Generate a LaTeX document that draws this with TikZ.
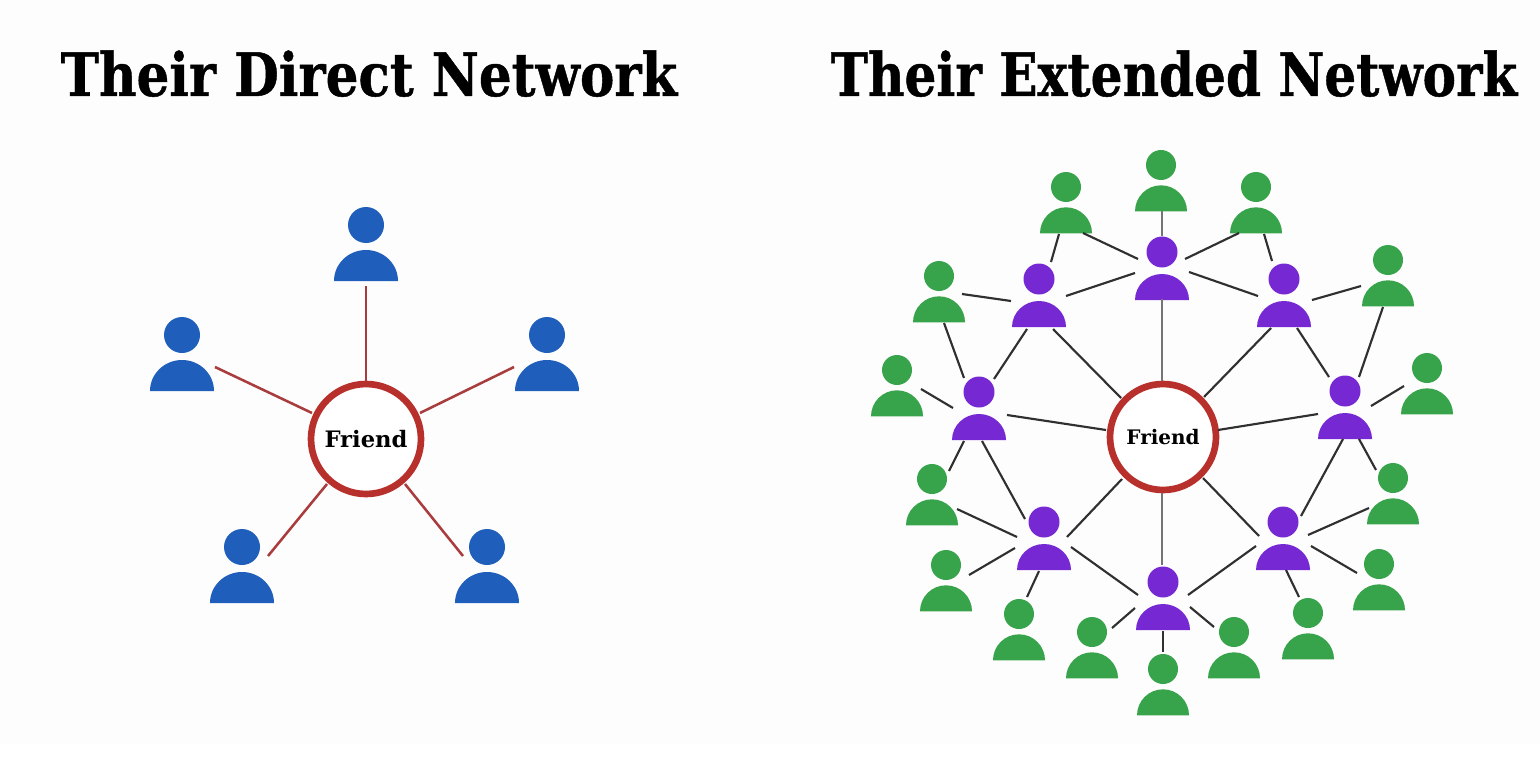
\documentclass[tikz,border=0pt]{standalone}
\usepackage{fontspec}
\setmainfont{DejaVu Serif}
\newfontfamily\titlefont[FakeBold=0.8]{DejaVu Serif Bold}
\usetikzlibrary{calc}
\definecolor{bgc}{HTML}{FDFDFD}
\definecolor{bluep}{HTML}{1F5FBB}
\definecolor{purplep}{HTML}{7629D3}
\definecolor{greenp}{HTML}{37A34A}
\definecolor{ringc}{HTML}{B8302C}
\definecolor{redl}{HTML}{A93C3C}
\definecolor{linkc}{HTML}{303030}
\definecolor{greyl}{HTML}{757575}
\tikzset{
  head/.style={circle,draw=none,inner sep=0pt,minimum size=#1},
  ring/.style={circle,draw=ringc,line width=5pt,fill=white,inner sep=0pt,minimum size=#1},
  redlink/.style={draw=redl,line width=1.9pt},
  netlink/.style={draw=linkc,line width=1.6pt},
  greylink/.style={draw=greyl,line width=2.2pt},
  titletext/.style={font=\titlefont,anchor=base,inner sep=0pt},
}
% \person{name}{colour}{x}{y}{head radius}{base offset}{half width}{body height}
\newcommand{\person}[8]{%
  \node[head={#5*1.5pt},fill=#2] (#1) at (#3,#4) {};
  \fill[#2] (#3-#7,#4+#6) arc[start angle=180,end angle=0,x radius=#7*0.75pt,y radius=#8*0.75pt] -- cycle;
}
\newcommand{\bluep}[3]{\person{#1}{bluep}{#2}{#3}{18}{56}{32}{31}}
\newcommand{\purp}[3]{\person{#1}{purplep}{#2}{#3}{15.5}{48}{27}{26}}
\newcommand{\grn}[3]{\person{#1}{greenp}{#2}{#3}{15}{46.3}{26}{26}}
% \lnk[style]{a}{b}{ax}{ay}{bx}{by}: connector between people a and b
\newcommand{\lnk}[7][netlink]{%
  \coordinate (#2-#3-a) at (#4,#5);
  \coordinate (#2-#3-b) at (#6,#7);
  \draw[#1] (#2-#3-a) -- (#2-#3-b);
}
\begin{document}
\begin{tikzpicture}[x=0.75pt,y=-0.75pt]
\useasboundingbox (0,0) rectangle (1540,756);
\fill[white] (0,0) rectangle (1540,756);
\fill[bgc] (0,0) rectangle (1540,744);

\node[titletext] (t1) at (369,96) {\scalebox{0.86}[1]{\fontsize{45}{45}\selectfont Their Direct Network}};
\node[titletext] (t2) at (1174,96) {\scalebox{0.836}[1]{\fontsize{45}{45}\selectfont Their Extended Network}};

% direct network
\node[ring={110*0.75pt}] (f1) at (366,439) {\fontsize{17}{17}\selectfont\bfseries Friend};
\bluep{b1}{366}{225}
\bluep{b2}{182}{335}
\bluep{b3}{547}{335}
\bluep{b4}{242}{547}
\bluep{b5}{487}{547}
\lnk[redlink]{b1}{f1}{366}{286}{366}{381}
\lnk[redlink]{b2}{f1}{215}{367}{312}{413}
\lnk[redlink]{b3}{f1}{514}{367}{420}{413}
\lnk[redlink]{b4}{f1}{268}{556}{327}{484}
\lnk[redlink]{b5}{f1}{463}{556}{405}{484}

% extended network
\node[ring={106*0.75pt}] (f2) at (1163,437) {\fontsize{15}{15}\selectfont\bfseries Friend};
\purp{pt}{1162}{252}
\purp{pul}{1039}{279}
\purp{pur}{1284}{279}
\purp{pl}{979}{392}
\purp{pr}{1345}{391}
\purp{pll}{1044}{522}
\purp{plr}{1283}{522}
\purp{pb}{1163}{582}
\grn{g1}{1161}{165}
\grn{g2}{1066}{187}
\grn{g3}{1256}{187}
\grn{g4}{939}{276}
\grn{g5}{1388}{260}
\grn{g6}{897}{370}
\grn{g7}{1427}{368}
\grn{g8}{932}{479}
\grn{g9}{1393}{478}
\grn{g10}{946}{565}
\grn{g11}{1379}{564}
\grn{g12}{1019}{614}
\grn{g13}{1308}{613}
\grn{g14}{1092}{632}
\grn{g15}{1234}{632}
\grn{g16}{1163}{669}

\lnk[greylink]{g1}{pt}{1162}{211}{1162}{236}
\lnk[greylink]{pt}{f2}{1162}{299}{1162}{381}
\lnk{g2}{pt}{1083}{233}{1138}{259}
\lnk{g2}{pul}{1059}{234}{1051}{262}
\lnk{pul}{pt}{1066}{296}{1135}{273}
\lnk{g4}{pul}{962}{294}{1011}{301}
\lnk{g4}{pl}{944}{323}{964}{378}
\lnk{pul}{pl}{1027}{329}{994}{379}
\lnk{pul}{f2}{1053}{329}{1121}{398}
\lnk{g6}{pl}{921}{389}{953}{408}
\lnk{pl}{f2}{1007}{415}{1106}{430}
\lnk{g3}{pt}{1239}{233}{1185}{259}
\lnk{g3}{pur}{1264}{234}{1272}{261}
\lnk{pt}{pur}{1189}{272}{1258}{296}
\lnk{pur}{g5}{1312}{300}{1361}{286}
\lnk{g5}{pr}{1383}{307}{1359}{377}
\lnk{pur}{pr}{1297}{328}{1329}{377}
\lnk{pur}{f2}{1271}{328}{1204}{397}
\lnk{pr}{g7}{1371}{406}{1404}{386}
\lnk{pr}{f2}{1318}{414}{1218}{430}
\lnk{pl}{g8}{964}{441}{949}{471}
\lnk{pl}{pll}{982}{441}{1025}{519}
\lnk{pll}{f2}{1067}{537}{1122}{479}
\lnk{g8}{pll}{957}{509}{1017}{537}
\lnk{g10}{pll}{969}{575}{1015}{548}
\lnk{pll}{g12}{1039}{571}{1027}{597}
\lnk{pll}{pb}{1071}{547}{1138}{595}
\lnk{g14}{pb}{1112}{628}{1135}{608}
\lnk{pb}{g16}{1163}{631}{1163}{652}
\lnk[greylink]{f2}{pb}{1162}{493}{1162}{565}
\lnk{f2}{plr}{1203}{478}{1259}{536}
\lnk{pr}{plr}{1343}{439}{1301}{516}
\lnk{pr}{g9}{1359}{439}{1376}{470}
\lnk{plr}{g9}{1308}{535}{1369}{508}
\lnk{plr}{g11}{1311}{546}{1357}{573}
\lnk{plr}{g13}{1286}{570}{1299}{597}
\lnk{plr}{pb}{1256}{546}{1188}{595}
\lnk{pb}{g15}{1190}{607}{1214}{627}
\end{tikzpicture}
\end{document}
